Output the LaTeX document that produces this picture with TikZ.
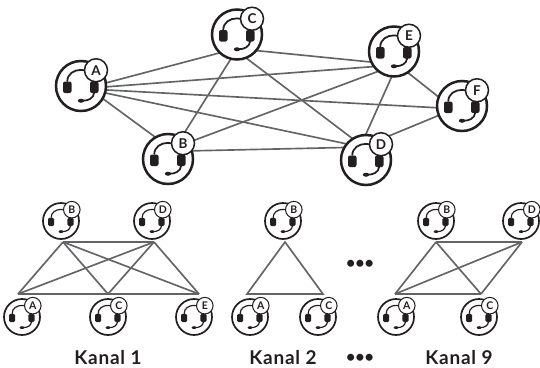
\documentclass[tikz,border=0pt]{standalone}
\usepackage{fontspec}
\setmainfont{Lato}
\definecolor{ink}{HTML}{231F20}
\definecolor{wire}{HTML}{636466}
\pgfdeclarelayer{wires}
\pgfsetlayers{wires,main}
\tikzset{
  hsring/.style={circle,draw=ink,fill=white,inner sep=0pt,outer sep=0pt},
  hsbadge/.style={circle,draw=ink,fill=white,inner sep=0pt,text=ink},
  wirebig/.style={draw=wire,line width=1.65pt},
  wiresmall/.style={draw=wire,line width=1.65pt,line join=miter},
  caption/.style={text=ink,font=\fontsize{19}{20}\selectfont\bfseries\addfontfeature{LetterSpace=4},inner sep=0pt,anchor=base},
  more/.style={text=ink,font=\fontsize{16}{18}\selectfont\bfseries,inner sep=0pt}
}
% #1 name, #2 x, #3 y, #4 letter, #5 radius, #6 ring width, #7 letter size
\newcommand{\headset}[7]{%
  \node[hsring,minimum size=#5*2pt,line width=#6pt] (#1) at (#2,#3) {};
  \begin{scope}[shift={(#2,#3)},x=#5pt,y=-#5pt]
    \draw[ink,line width=#6*0.7pt] (-0.55,-0.18) .. controls (-0.55,-0.80) and (0.55,-0.80) .. (0.55,-0.18);
    \fill[ink,rounded corners=#5*0.08pt] (-0.72,-0.18) rectangle (-0.38,0.28);
    \fill[ink,rounded corners=#5*0.08pt] (0.36,-0.18) rectangle (0.70,0.28);
    \draw[ink,line width=#6*0.7pt] (0.53,0.26) .. controls (0.50,0.50) and (0.30,0.59) .. (0.05,0.59);
    \fill[ink] (0,0.59) ellipse (0.13 and 0.08);
    \node[hsbadge,minimum size=#5*0.92pt,line width=#6*0.6pt,font=\fontsize{#7}{#7}\selectfont\bfseries] (#1l) at (0.60,-0.63) {#4};
  \end{scope}
}
\begin{document}
\begin{tikzpicture}[x=1pt,y=-1pt]
\useasboundingbox (0,0) rectangle (540,367);
\begin{pgfonlayer}{wires}
\fill[white] (0,0) rectangle (540,367);
\end{pgfonlayer}
% top mesh
\headset{a}{81}{86}{A}{25}{2.5}{13.5}
\headset{c}{237}{34.5}{C}{25}{2.5}{13.5}
\headset{e}{394}{51.5}{E}{25}{2.5}{13.5}
\headset{f}{462}{106}{F}{25}{2.5}{13.5}
\headset{b}{168}{159}{B}{25}{2.5}{13.5}
\headset{d}{366}{160}{D}{25}{2.5}{13.5}
\begin{pgfonlayer}{wires}
\foreach \p/\q in {a.7/c.227,a.-2/e.217.8,a.-9/f.184.8,a.-16/d.140,a.-30.6/b.120.6,
  c.256.8/b.58,c.291/d.122.5,c.320.5/e.205.5,b.40/e.232,b.19.8/d.150.5,
  e.265.5/d.91,e.303/f.159.4,d.55/f.202.6}
  \draw[wirebig] (\p) -- (\q);
\end{pgfonlayer}
% Kanal 1
\headset{kab}{61}{221}{B}{18}{1.7}{10.5}
\headset{kad}{152}{221}{D}{18}{1.7}{10.5}
\headset{kaa}{22}{317}{A}{18}{1.7}{10.5}
\headset{kac}{108}{317}{C}{18}{1.7}{10.5}
\headset{kae}{194}{317}{E}{18}{1.7}{10.5}
\coordinate (pb) at (63,242); \coordinate (pd) at (154,242);
\coordinate (pa) at (18,294); \coordinate (pc) at (108,294); \coordinate (pe) at (199,294);
\foreach \p/\q in {pb/pd,pa/pc,pc/pe,pb/pa,pb/pc,pb/pe,pd/pa,pd/pc,pd/pe}
  \draw[wiresmall] (\p) -- (\q);
% Kanal 2
\headset{kbb}{283}{221}{B}{18}{1.7}{10.5}
\headset{kba}{250}{317}{A}{18}{1.7}{10.5}
\headset{kbc}{318}{317}{C}{18}{1.7}{10.5}
\coordinate (qb) at (285,242); \coordinate (qa) at (247,294); \coordinate (qc) at (323,294);
\draw[wiresmall] (qb) -- (qa) -- (qc) -- cycle;
% Kanal 9
\headset{kcb}{436}{221}{B}{18}{1.7}{10.5}
\headset{kcd}{521}{221}{D}{18}{1.7}{10.5}
\headset{kca}{396}{317}{A}{18}{1.7}{10.5}
\headset{kcc}{479}{317}{C}{18}{1.7}{10.5}
\coordinate (rb) at (436,242); \coordinate (rd) at (522,242); \coordinate (ra) at (395,294); \coordinate (rc) at (481,294);
\foreach \p/\q in {rb/rd,ra/rc,rb/ra,rb/rc,rd/ra,rd/rc}
  \draw[wiresmall] (\p) -- (\q);
% labels
\node[caption] (t1) at (108,364) {Kanal 1};
\node[caption] (t2) at (283,364) {Kanal 2};
\node[caption] (t9) at (459,364) {Kanal 9};
\node[more] (m1) at (360,264) {•••};
\node[more] (m2) at (360,358) {•••};
\end{tikzpicture}
\end{document}
